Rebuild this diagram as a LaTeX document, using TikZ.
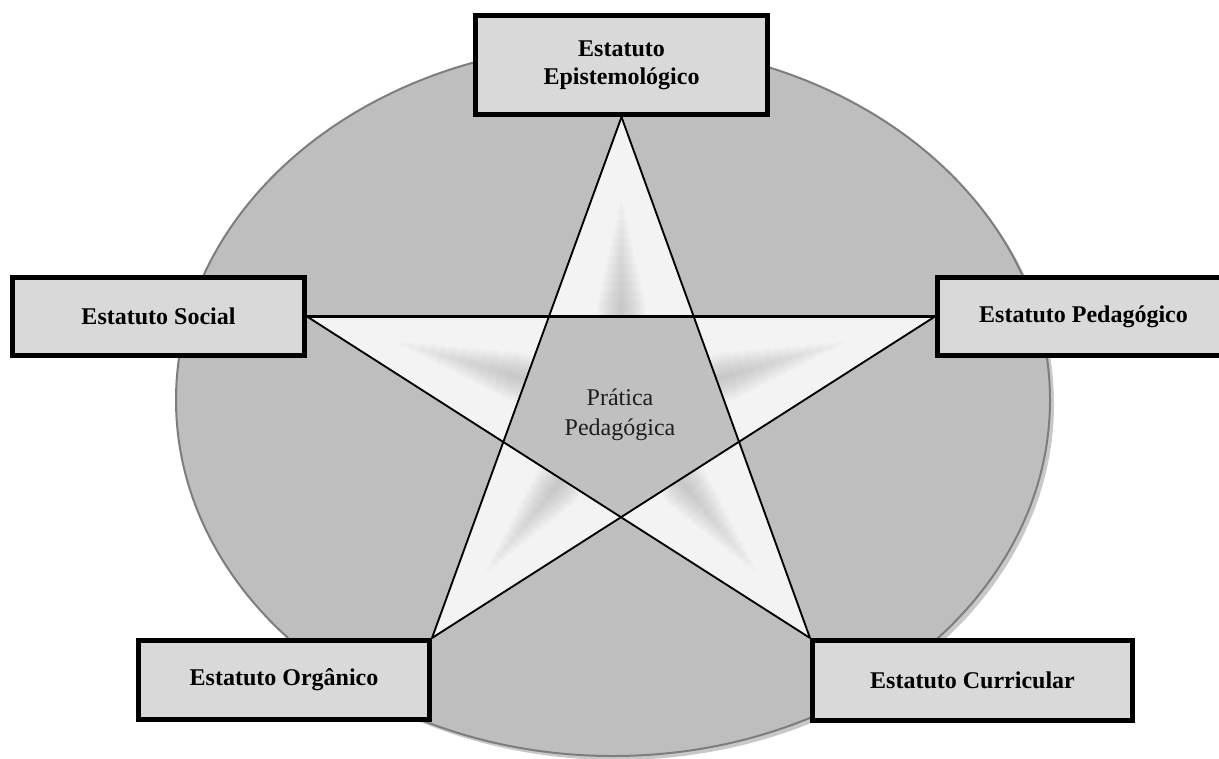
\documentclass[tikz,border=0pt]{standalone}
\usepackage{fontspec}
\setmainfont{Liberation Serif}
\usetikzlibrary{calc}
\definecolor{ellfill}{RGB}{190,190,190}
\definecolor{ellline}{RGB}{125,125,125}
\definecolor{ellshadow}{RGB}{200,200,200}
\definecolor{boxfill}{RGB}{217,217,217}
\definecolor{armfill}{RGB}{243,243,243}
\definecolor{pentfill}{RGB}{192,192,192}
\definecolor{streak}{RGB}{150,150,150}
\definecolor{centertext}{RGB}{30,30,30}
\pgfdeclarelayer{bg}
\pgfsetlayers{bg,main}
\begin{document}
\begin{tikzpicture}[x=0.75pt,y=-0.75pt,
  statbox/.style={draw=black, line width=3.75pt, fill=boxfill,
    font=\bfseries\fontsize{18}{21}\selectfont, align=center, inner sep=0pt},
  starline/.style={line width=1.4pt, draw=black},
  midline/.style={line width=2.2pt, draw=black},
  centerlabel/.style={font=\fontsize{18}{22.5}\selectfont, align=center, text=centertext},
]
\useasboundingbox (0,0) rectangle (1219,758);
\clip (0,0) rectangle (1219,758);

% boxes
\node[statbox, minimum width=219pt, minimum height=74.25pt] (epi) at (621.5,65) {Estatuto\\Epistemológico};
\node[statbox, minimum width=219pt, minimum height=58.5pt] (soc) at (158.5,316.5) {Estatuto Social};
\node[statbox, minimum width=219pt, minimum height=58.5pt] (ped) at (1083.5,316.5) {Estatuto Pedagógico};
\node[statbox, minimum width=218.25pt, minimum height=59.25pt] (org) at (284,680) {Estatuto Orgânico};
\node[statbox, minimum width=240pt, minimum height=60pt] (cur) at (972.5,680.5) {Estatuto Curricular};

% star tips
\coordinate (T) at (epi.south);
\coordinate (L) at (soc.east);
\coordinate (R) at (ped.west);
\coordinate (BL) at (org.north east);
\coordinate (BR) at (cur.north west);
% inner vertices
\coordinate (i1) at (intersection of T--BL and L--R);
\coordinate (i2) at (intersection of T--BR and L--R);
\coordinate (i3) at (intersection of T--BR and R--BL);
\coordinate (i4) at (intersection of L--BR and R--BL);
\coordinate (i5) at (intersection of T--BL and L--BR);

\begin{pgfonlayer}{bg}
  % ellipse with shadow
  \fill[ellshadow] (617,404) ellipse [x radius=437, y radius=356];
  \filldraw[fill=ellfill, draw=ellline, line width=1.5pt] (613,400) ellipse [x radius=437, y radius=356];
  % star arms
  \fill[armfill] (T) -- (BL) -- (R) -- (L) -- (BR) -- cycle;
  \begin{scope}
    \clip (T) -- (BL) -- (R) -- (L) -- (BR) -- cycle;
    \foreach \a/\b/\c in {T/i1/i2, R/i2/i3, BR/i3/i4, BL/i4/i5, L/i5/i1}{
      \foreach \k in {1,...,12}{
        \pgfmathsetmacro{\w}{3*\k}
        \pgfmathsetmacro{\f}{0.62-0.045*\k}
        \draw[streak, line width=\w pt, opacity=0.045]
          ($(\b)!0.5!(\c)$) -- ($($(\b)!0.5!(\c)$)!\f!(\a)$);
      }
    }
  \end{scope}
  % central pentagon
  \fill[pentfill] (i1) -- (i2) -- (i3) -- (i4) -- (i5) -- cycle;
  % star lines
  \draw[starline] (T) -- (BL);
  \draw[starline] (T) -- (BR);
  \draw[starline] (L) -- (BR);
  \draw[starline] (R) -- (BL);
  \draw[midline] (L) -- (R);
\end{pgfonlayer}

\node[centerlabel] (prat) at (620,415) {Prática\\Pedagógica};
\end{tikzpicture}
\end{document}
